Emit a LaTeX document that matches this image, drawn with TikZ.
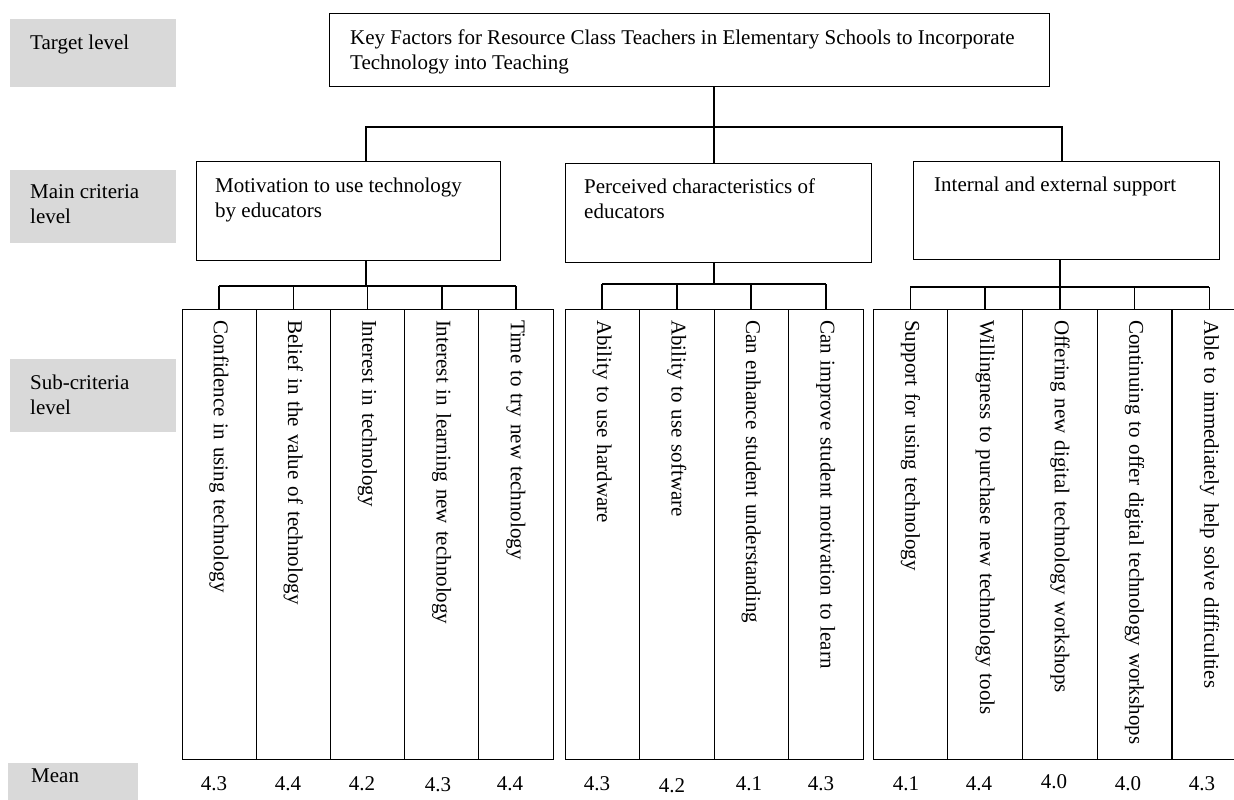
\documentclass[tikz,border=0pt]{standalone}
\usepackage{fontspec}
\setmainfont{Liberation Serif}
\definecolor{lgray}{HTML}{D9D9D9}
\begin{document}
\begin{tikzpicture}[x=1pt,y=-1pt,
  every node/.style={font=\fontsize{21}{25}\selectfont, inner sep=0pt},
  graybox/.style={fill=lgray, draw=none, anchor=north west, minimum width=166pt},
  box/.style={draw, line width=1pt, anchor=north west},
  txt/.style={anchor=north west, align=left},
  colbox/.style={draw, line width=1pt, rotate=-90, minimum height=#1, text width=432pt, align=left, inner xsep=9pt, inner ysep=0pt},
  conn/.style={line width=1.6pt},
  num/.style={anchor=base}]
\clip (0,0) rectangle (1234,800);
% level labels
\node[graybox, minimum height=68pt] (gT) at (10,19) {};
\node[txt] (gTt) at (30,34.7) {Target level};
\node[graybox, minimum height=73pt] (gM) at (10,170) {};
\node[txt] (gMt) at (30,184.7) {Main criteria\\level};
\node[graybox, minimum height=73pt] (gS) at (10,359) {};
\node[txt] (gSt) at (30,374.7) {Sub-criteria\\level};
\node[graybox, minimum width=130pt, minimum height=40pt] (gN) at (8,763) {};
\node[txt] (gNt) at (31,769) {Mean};
% target
\node[box, minimum width=720pt, minimum height=73pt] (t) at (329,13) {};
\node[txt] (tt) at (350,29.5) {Key Factors for Resource Class Teachers in Elementary Schools to Incorporate\\Technology into Teaching};
% main criteria
\node[box, minimum width=304pt, minimum height=99pt] (m1) at (196,161) {};
\node[txt] (m1t) at (215,177.7) {Motivation to use technology\\by educators};
\node[box, minimum width=306pt, minimum height=99pt] (m2) at (565,163) {};
\node[txt] (m2t) at (584,178.7) {Perceived characteristics of\\educators};
\node[box, minimum width=306pt, minimum height=98pt] (m3) at (913,161) {};
\node[txt] (m3t) at (934,176.7) {Internal and external support};
% sub-criteria columns
\node[colbox=74.2pt] (c11) at (219.1,534) {\hspace*{2pt}Confidence in using technology};
\node[colbox=74.2pt] (c12) at (293.3,534) {\hspace*{2pt}Belief in the value of technology};
\node[colbox=74.2pt] (c13) at (367.5,534) {\hspace*{2pt}Interest in technology};
\node[colbox=74.2pt] (c14) at (441.7,534) {\hspace*{2pt}Interest in learning new technology};
\node[colbox=74.2pt] (c15) at (515.9,534) {\hspace*{2pt}Time to try new technology};
\node[colbox=74.5pt] (c21) at (602.25,534) {\hspace*{2pt}Ability to use hardware};
\node[colbox=74.5pt] (c22) at (676.75,534) {\hspace*{2pt}Ability to use software};
\node[colbox=74.5pt] (c23) at (751.25,534) {\hspace*{2pt}Can enhance student understanding};
\node[colbox=74.5pt] (c24) at (825.75,534) {\hspace*{2pt}Can improve student motivation to learn};
\node[colbox=74.75pt] (c31) at (910.4,534) {\hspace*{2pt}Support for using technology};
\node[colbox=74.75pt] (c32) at (985.1,534) {\hspace*{2pt}Willingness to purchase new technology tools};
\node[colbox=74.75pt] (c33) at (1059.9,534) {\hspace*{2pt}Offering new digital technology workshops};
\node[colbox=74.75pt] (c34) at (1134.6,534) {\hspace*{2pt}Continuing to offer digital technology workshops};
\node[colbox=74.75pt] (c35) at (1209.4,534) {\hspace*{2pt}Able to immediately help solve difficulties};
% connectors: top level
\coordinate (j1) at (366,127);
\coordinate (j2) at (714,127);
\coordinate (j3) at (1062,127);
\draw[conn] (t.south -| j2) -- (m2.north -| j2);
\draw[conn] (m1.north -| j1) -- (j1) -- (j3) -- (m3.north -| j3);
% group buses
\coordinate (b1) at (366,286);
\coordinate (b2) at (714,284);
\coordinate (b3) at (1060,287);
\draw[conn] (m1.south -| b1) -- (b1);
\draw[conn] (m2.south -| b2) -- (b2);
\draw[conn] (m3.south -| b3) -- (b3);
\draw[conn] (c11.west |- b1) -- (c15.west |- b1);
\draw[conn] (c21.west |- b2) -- (c24.west |- b2);
\draw[conn] (c31.west |- b3) -- (c35.west |- b3);
\foreach \c/\b in {c11/b1,c12/b1,c13/b1,c14/b1,c15/b1,c21/b2,c22/b2,c23/b2,c24/b2,c31/b3,c32/b3,c33/b3,c34/b3,c35/b3}
  \draw[conn] (\c.west |- \b) -- (\c.west);
% means
\node[num] (n11) at (214,790) {4.3};
\node[num] (n12) at (288,790) {4.4};
\node[num] (n13) at (362,790) {4.2};
\node[num] (n14) at (438,791) {4.3};
\node[num] (n15) at (510,790) {4.4};
\node[num] (n21) at (597,790) {4.3};
\node[num] (n22) at (672,792) {4.2};
\node[num] (n23) at (749,790) {4.1};
\node[num] (n24) at (821,790) {4.3};
\node[num] (n31) at (906,790) {4.1};
\node[num] (n32) at (979,790) {4.4};
\node[num] (n33) at (1054,788) {4.0};
\node[num] (n34) at (1128,790) {4.0};
\node[num] (n35) at (1202,790) {4.3};
\end{tikzpicture}
\end{document}
